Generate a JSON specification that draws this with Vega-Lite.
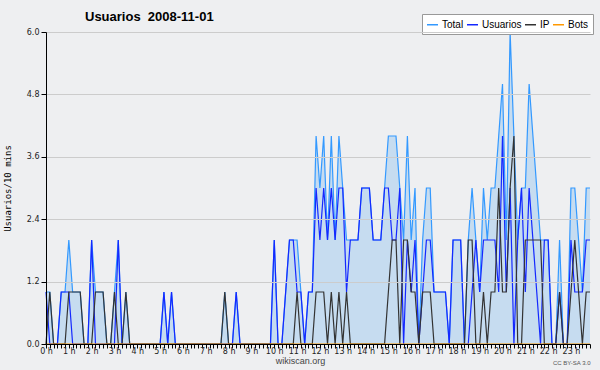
{
 "$schema": "https://vega.github.io/schema/vega-lite/v6.json",
 "width": 544, "height": 312,
 "autosize": "none",
 "padding": {"left": 46, "top": 32, "right": 10, "bottom": 26},
 "background": "#eeeff1",
 "config": {"view": {"stroke": null}, "font": "Liberation Sans"},
 "title": {"text": "Usuarios\u00a0 2008-11-01", "anchor": "start", "frame": "group", "dx": 39, "offset": -10, "font": "Liberation Sans", "fontSize": 13, "fontWeight": "bold", "color": "#000"},
 "data": {"values": [
{"time":"00:00","Total":1,"Usuarios":1,"IP":0,"Bots":0},
{"time":"00:10","Total":1,"Usuarios":0,"IP":1,"Bots":0},
{"time":"00:20","Total":0,"Usuarios":0,"IP":0,"Bots":0},
{"time":"00:30","Total":0,"Usuarios":0,"IP":0,"Bots":0},
{"time":"00:40","Total":1,"Usuarios":1,"IP":0,"Bots":0},
{"time":"00:50","Total":1,"Usuarios":1,"IP":0,"Bots":0},
{"time":"01:00","Total":2,"Usuarios":1,"IP":1,"Bots":0},
{"time":"01:10","Total":1,"Usuarios":0,"IP":1,"Bots":0},
{"time":"01:20","Total":1,"Usuarios":0,"IP":1,"Bots":0},
{"time":"01:30","Total":1,"Usuarios":0,"IP":1,"Bots":0},
{"time":"01:40","Total":0,"Usuarios":0,"IP":0,"Bots":0},
{"time":"01:50","Total":0,"Usuarios":0,"IP":0,"Bots":0},
{"time":"02:00","Total":2,"Usuarios":2,"IP":0,"Bots":0},
{"time":"02:10","Total":1,"Usuarios":0,"IP":1,"Bots":0},
{"time":"02:20","Total":1,"Usuarios":0,"IP":1,"Bots":0},
{"time":"02:30","Total":1,"Usuarios":0,"IP":1,"Bots":0},
{"time":"02:40","Total":0,"Usuarios":0,"IP":0,"Bots":0},
{"time":"02:50","Total":0,"Usuarios":0,"IP":0,"Bots":0},
{"time":"03:00","Total":1,"Usuarios":0,"IP":1,"Bots":0},
{"time":"03:10","Total":2,"Usuarios":2,"IP":0,"Bots":0},
{"time":"03:20","Total":0,"Usuarios":0,"IP":0,"Bots":0},
{"time":"03:30","Total":1,"Usuarios":0,"IP":1,"Bots":0},
{"time":"03:40","Total":0,"Usuarios":0,"IP":0,"Bots":0},
{"time":"03:50","Total":0,"Usuarios":0,"IP":0,"Bots":0},
{"time":"04:00","Total":0,"Usuarios":0,"IP":0,"Bots":0},
{"time":"04:10","Total":0,"Usuarios":0,"IP":0,"Bots":0},
{"time":"04:20","Total":0,"Usuarios":0,"IP":0,"Bots":0},
{"time":"04:30","Total":0,"Usuarios":0,"IP":0,"Bots":0},
{"time":"04:40","Total":0,"Usuarios":0,"IP":0,"Bots":0},
{"time":"04:50","Total":0,"Usuarios":0,"IP":0,"Bots":0},
{"time":"05:00","Total":0,"Usuarios":0,"IP":0,"Bots":0},
{"time":"05:10","Total":1,"Usuarios":1,"IP":0,"Bots":0},
{"time":"05:20","Total":0,"Usuarios":0,"IP":0,"Bots":0},
{"time":"05:30","Total":1,"Usuarios":1,"IP":0,"Bots":0},
{"time":"05:40","Total":0,"Usuarios":0,"IP":0,"Bots":0},
{"time":"05:50","Total":0,"Usuarios":0,"IP":0,"Bots":0},
{"time":"06:00","Total":0,"Usuarios":0,"IP":0,"Bots":0},
{"time":"06:10","Total":0,"Usuarios":0,"IP":0,"Bots":0},
{"time":"06:20","Total":0,"Usuarios":0,"IP":0,"Bots":0},
{"time":"06:30","Total":0,"Usuarios":0,"IP":0,"Bots":0},
{"time":"06:40","Total":0,"Usuarios":0,"IP":0,"Bots":0},
{"time":"06:50","Total":0,"Usuarios":0,"IP":0,"Bots":0},
{"time":"07:00","Total":0,"Usuarios":0,"IP":0,"Bots":0},
{"time":"07:10","Total":0,"Usuarios":0,"IP":0,"Bots":0},
{"time":"07:20","Total":0,"Usuarios":0,"IP":0,"Bots":0},
{"time":"07:30","Total":0,"Usuarios":0,"IP":0,"Bots":0},
{"time":"07:40","Total":0,"Usuarios":0,"IP":0,"Bots":0},
{"time":"07:50","Total":1,"Usuarios":0,"IP":1,"Bots":0},
{"time":"08:00","Total":0,"Usuarios":0,"IP":0,"Bots":0},
{"time":"08:10","Total":0,"Usuarios":0,"IP":0,"Bots":0},
{"time":"08:20","Total":1,"Usuarios":1,"IP":0,"Bots":0},
{"time":"08:30","Total":0,"Usuarios":0,"IP":0,"Bots":0},
{"time":"08:40","Total":0,"Usuarios":0,"IP":0,"Bots":0},
{"time":"08:50","Total":0,"Usuarios":0,"IP":0,"Bots":0},
{"time":"09:00","Total":0,"Usuarios":0,"IP":0,"Bots":0},
{"time":"09:10","Total":0,"Usuarios":0,"IP":0,"Bots":0},
{"time":"09:20","Total":0,"Usuarios":0,"IP":0,"Bots":0},
{"time":"09:30","Total":0,"Usuarios":0,"IP":0,"Bots":0},
{"time":"09:40","Total":0,"Usuarios":0,"IP":0,"Bots":0},
{"time":"09:50","Total":0,"Usuarios":0,"IP":0,"Bots":0},
{"time":"10:00","Total":2,"Usuarios":2,"IP":0,"Bots":0},
{"time":"10:10","Total":0,"Usuarios":0,"IP":0,"Bots":0},
{"time":"10:20","Total":0,"Usuarios":0,"IP":0,"Bots":0},
{"time":"10:30","Total":1,"Usuarios":1,"IP":0,"Bots":0},
{"time":"10:40","Total":2,"Usuarios":2,"IP":0,"Bots":0},
{"time":"10:50","Total":2,"Usuarios":2,"IP":0,"Bots":0},
{"time":"11:00","Total":2,"Usuarios":1,"IP":1,"Bots":0},
{"time":"11:10","Total":1,"Usuarios":1,"IP":0,"Bots":0},
{"time":"11:20","Total":0,"Usuarios":0,"IP":0,"Bots":0},
{"time":"11:30","Total":1,"Usuarios":1,"IP":0,"Bots":0},
{"time":"11:40","Total":1,"Usuarios":1,"IP":0,"Bots":0},
{"time":"11:50","Total":4,"Usuarios":3,"IP":1,"Bots":0},
{"time":"12:00","Total":3,"Usuarios":2,"IP":1,"Bots":0},
{"time":"12:10","Total":4,"Usuarios":3,"IP":1,"Bots":0},
{"time":"12:20","Total":2,"Usuarios":2,"IP":0,"Bots":0},
{"time":"12:30","Total":4,"Usuarios":3,"IP":1,"Bots":0},
{"time":"12:40","Total":2,"Usuarios":2,"IP":0,"Bots":0},
{"time":"12:50","Total":4,"Usuarios":3,"IP":1,"Bots":0},
{"time":"13:00","Total":3,"Usuarios":3,"IP":0,"Bots":0},
{"time":"13:10","Total":2,"Usuarios":1,"IP":1,"Bots":0},
{"time":"13:20","Total":2,"Usuarios":2,"IP":0,"Bots":0},
{"time":"13:30","Total":2,"Usuarios":2,"IP":0,"Bots":0},
{"time":"13:40","Total":2,"Usuarios":2,"IP":0,"Bots":0},
{"time":"13:50","Total":3,"Usuarios":3,"IP":0,"Bots":0},
{"time":"14:00","Total":3,"Usuarios":3,"IP":0,"Bots":0},
{"time":"14:10","Total":3,"Usuarios":3,"IP":0,"Bots":0},
{"time":"14:20","Total":2,"Usuarios":2,"IP":0,"Bots":0},
{"time":"14:30","Total":2,"Usuarios":2,"IP":0,"Bots":0},
{"time":"14:40","Total":2,"Usuarios":2,"IP":0,"Bots":0},
{"time":"14:50","Total":3,"Usuarios":3,"IP":0,"Bots":0},
{"time":"15:00","Total":4,"Usuarios":3,"IP":1,"Bots":0},
{"time":"15:10","Total":4,"Usuarios":2,"IP":2,"Bots":0},
{"time":"15:20","Total":4,"Usuarios":2,"IP":2,"Bots":0},
{"time":"15:30","Total":3,"Usuarios":3,"IP":0,"Bots":0},
{"time":"15:40","Total":2,"Usuarios":0,"IP":2,"Bots":0},
{"time":"15:50","Total":4,"Usuarios":2,"IP":2,"Bots":0},
{"time":"16:00","Total":2,"Usuarios":1,"IP":1,"Bots":0},
{"time":"16:10","Total":3,"Usuarios":2,"IP":1,"Bots":0},
{"time":"16:20","Total":0,"Usuarios":0,"IP":0,"Bots":0},
{"time":"16:30","Total":2,"Usuarios":1,"IP":1,"Bots":0},
{"time":"16:40","Total":3,"Usuarios":2,"IP":1,"Bots":0},
{"time":"16:50","Total":3,"Usuarios":2,"IP":1,"Bots":0},
{"time":"17:00","Total":1,"Usuarios":1,"IP":0,"Bots":0},
{"time":"17:10","Total":1,"Usuarios":1,"IP":0,"Bots":0},
{"time":"17:20","Total":1,"Usuarios":1,"IP":0,"Bots":0},
{"time":"17:30","Total":1,"Usuarios":1,"IP":0,"Bots":0},
{"time":"17:40","Total":0,"Usuarios":0,"IP":0,"Bots":0},
{"time":"17:50","Total":2,"Usuarios":2,"IP":0,"Bots":0},
{"time":"18:00","Total":2,"Usuarios":2,"IP":0,"Bots":0},
{"time":"18:10","Total":2,"Usuarios":2,"IP":0,"Bots":0},
{"time":"18:20","Total":0,"Usuarios":0,"IP":0,"Bots":0},
{"time":"18:30","Total":2,"Usuarios":0,"IP":2,"Bots":0},
{"time":"18:40","Total":3,"Usuarios":1,"IP":2,"Bots":0},
{"time":"18:50","Total":2,"Usuarios":2,"IP":0,"Bots":0},
{"time":"19:00","Total":1,"Usuarios":1,"IP":0,"Bots":0},
{"time":"19:10","Total":3,"Usuarios":2,"IP":1,"Bots":0},
{"time":"19:20","Total":2,"Usuarios":2,"IP":0,"Bots":0},
{"time":"19:30","Total":3,"Usuarios":2,"IP":1,"Bots":0},
{"time":"19:40","Total":3,"Usuarios":2,"IP":1,"Bots":0},
{"time":"19:50","Total":4,"Usuarios":1,"IP":3,"Bots":0},
{"time":"20:00","Total":5,"Usuarios":4,"IP":1,"Bots":0},
{"time":"20:10","Total":2,"Usuarios":1,"IP":1,"Bots":0},
{"time":"20:20","Total":6,"Usuarios":3,"IP":3,"Bots":0},
{"time":"20:30","Total":4,"Usuarios":0,"IP":4,"Bots":0},
{"time":"20:40","Total":2,"Usuarios":2,"IP":0,"Bots":0},
{"time":"20:50","Total":3,"Usuarios":3,"IP":0,"Bots":0},
{"time":"21:00","Total":3,"Usuarios":1,"IP":2,"Bots":0},
{"time":"21:10","Total":5,"Usuarios":3,"IP":2,"Bots":0},
{"time":"21:20","Total":4,"Usuarios":2,"IP":2,"Bots":0},
{"time":"21:30","Total":3,"Usuarios":1,"IP":2,"Bots":0},
{"time":"21:40","Total":2,"Usuarios":0,"IP":2,"Bots":0},
{"time":"21:50","Total":2,"Usuarios":2,"IP":0,"Bots":0},
{"time":"22:00","Total":2,"Usuarios":2,"IP":0,"Bots":0},
{"time":"22:10","Total":0,"Usuarios":0,"IP":0,"Bots":0},
{"time":"22:20","Total":0,"Usuarios":0,"IP":0,"Bots":0},
{"time":"22:30","Total":2,"Usuarios":1,"IP":1,"Bots":0},
{"time":"22:40","Total":0,"Usuarios":0,"IP":0,"Bots":0},
{"time":"22:50","Total":0,"Usuarios":0,"IP":0,"Bots":0},
{"time":"23:00","Total":3,"Usuarios":2,"IP":1,"Bots":0},
{"time":"23:10","Total":3,"Usuarios":1,"IP":2,"Bots":0},
{"time":"23:20","Total":2,"Usuarios":1,"IP":1,"Bots":0},
{"time":"23:30","Total":1,"Usuarios":1,"IP":0,"Bots":0},
{"time":"23:40","Total":3,"Usuarios":2,"IP":1,"Bots":0},
{"time":"23:50","Total":3,"Usuarios":2,"IP":1,"Bots":0}
 ]},
 "layer": [
  {
   "mark": {"type": "area", "color": "#c6dcf0", "opacity": 1},
   "encoding": {
    "x": {"field": "time", "type": "ordinal", "scale": {"type": "point", "padding": 0},
     "axis": {"title": "wikiscan.org", "titleFont": "Liberation Sans", "titleFontSize": 9, "titleFontWeight": "normal", "titleColor": "#444", "titleX": 254, "titleY": 12, "titleAlign": "center",
      "labelExpr": "slice(datum.value,3)=='00' ? toNumber(slice(datum.value,0,2)) + ' h' : ''",
      "labelAngle": 0, "labelOverlap": false, "labelFont": "DejaVu Sans", "labelFontSize": 8, "labelColor": "#222", "labelPadding": -1,
      "tickSize": 4, "tickColor": "#000", "domainColor": "#000", "grid": false, "zindex": 1}},
    "y": {"field": "Total", "type": "quantitative", "scale": {"domain": [0, 6], "nice": false},
     "axis": {"title": "Usuarios/10 mins", "titleFont": "DejaVu Sans Mono", "titleFontSize": 9, "titleFontWeight": "normal", "titleColor": "#000", "titlePadding": 14,
      "values": [0,0.3,0.6,0.9,1.2,1.5,1.8,2.1,2.4,2.7,3,3.3,3.6,3.9,4.2,4.5,4.8,5.1,5.4,5.7,6],
      "labelExpr": "round(datum.value*10) % 12 == 0 ? format(datum.value, '.1f') : ''",
      "labelFont": "DejaVu Sans", "labelFontSize": 8, "labelColor": "#222", "labelPadding": 2,
      "tickSize": {"condition": {"test": "round(datum.value*10) % 12 == 0", "value": 5}, "value": 3},
      "tickColor": "#000", "domainColor": "#000", "grid": true, "gridColor": "#cccccc",
      "gridOpacity": {"condition": {"test": "round(datum.value*10) % 12 == 0 && datum.value > 0", "value": 1}, "value": 0},
      "zindex": 1}}
   }
  },
  {
   "transform": [{"fold": ["Total", "Usuarios", "IP", "Bots"], "as": ["serie", "valor"]}],
   "mark": {"type": "line", "strokeWidth": 1.2},
   "encoding": {
    "x": {"field": "time", "type": "ordinal",
     "axis": {"orient": "bottom", "title": "CC BY-SA 3.0", "labels": false, "ticks": false, "domain": false, "grid": false,
      "titleFont": "Liberation Sans", "titleFontSize": 6, "titleFontWeight": "normal", "titleColor": "#555", "titleX": 544, "titleY": 15, "titleAlign": "right"}},
    "y": {"field": "valor", "type": "quantitative", "axis": {"title": "Usuarios/10 mins"}},
    "color": {"field": "serie", "type": "nominal", "sort": ["Total", "Usuarios", "IP", "Bots"],
     "scale": {"domain": ["Total", "Usuarios", "IP", "Bots"], "range": ["#3399ff", "#1428ff", "#333333", "#ff9900"]},
     "legend": {"orient": "none", "legendX": 376, "legendY": -18, "direction": "horizontal", "title": null,
      "symbolType": "stroke", "symbolStrokeWidth": 1.5, "symbolSize": 121, "labelFont": "Liberation Sans", "labelFontSize": 10, "labelColor": "#000",
      "fillColor": "#ffffff", "strokeColor": "#999999", "padding": 4, "columnPadding": 0, "labelOffset": 3}}
   }
  }
 ],
 "resolve": {"axis": {"x": "independent"}}
}
